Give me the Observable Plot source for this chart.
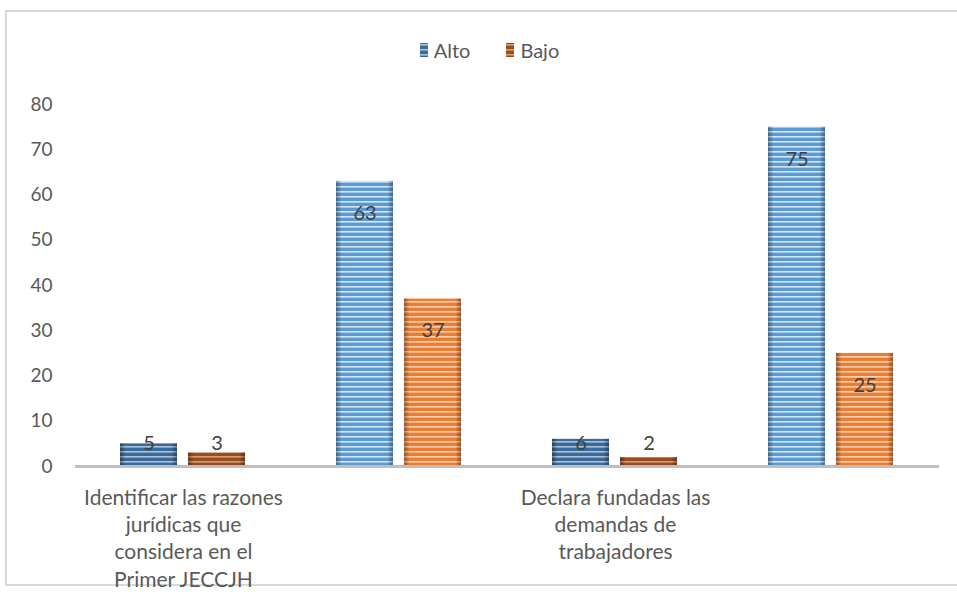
<!DOCTYPE html>
<html><head><meta charset="utf-8">
<script src="https://cdn.jsdelivr.net/npm/d3@7"></script>
<script src="https://cdn.jsdelivr.net/npm/@observablehq/plot@0.6"></script>
<style>
html,body{margin:0;padding:0;background:#fff;overflow:hidden;width:957px;height:592px;font-family:Lato,"Open Sans",sans-serif;}
#frame{position:absolute;left:5px;top:10px;width:1000px;height:576px;border:2px solid #d9d9d9;border-right:none;box-sizing:border-box;}
#chart{position:absolute;left:0;top:0;}
#legend{position:absolute;left:0;top:38px;width:957px;display:flex;justify-content:center;align-items:center;padding-left:22px;box-sizing:border-box;font-size:20px;color:#595959;}
#legend .item{display:flex;align-items:center;margin:0 18px;}
#legend .sw{width:8px;height:14px;margin-right:6px;}
</style></head>
<body>
<div id="frame"></div>
<div id="chart"></div>
<div id="legend"></div>
<script>
const categories = ["Identificar las razones\njurídicas que\nconsidera en el\nPrimer JECCJH", "", "Declara fundadas las\ndemandas de\ntrabajadores", ""];
const series = ["Alto", "Bajo"];
const alto = [5, 63, 6, 75];
const bajo = [3, 37, 2, 25];
const yTicks = [0, 10, 20, 30, 40, 50, 60, 70, 80];

const rows = [];
categories.forEach((c, i) => {
  rows.push({cat: i, series: "Alto", value: alto[i]});
  rows.push({cat: i, series: "Bajo", value: bajo[i]});
});
const pat = d => `url(#p-${d.series}-${d.cat % 2 === 0 ? "dark" : "light"})`;

const svg = Plot.plot({
  width: 957, height: 592,
  marginTop: 104, marginBottom: 126, marginLeft: 73, marginRight: 17,
  style: {background: "transparent", fontFamily: "Lato, 'Open Sans', sans-serif"},
  fx: {domain: d3.range(categories.length), padding: 0, axis: null},
  x: {domain: series, paddingInner: 0.16, paddingOuter: 0.65, axis: null},
  y: {domain: [0, 80], axis: null},
  color: {type: "identity"},
  marks: [
    Plot.axisY(yTicks, {tickSize: 0, tickPadding: 23, fontSize: 19, fill: "#595959", anchor: "left", label: null}),
    Plot.barY(rows, {fx: "cat", x: "series", y: "value", fill: pat}),
    Plot.barY(rows, {fx: "cat", x: "series", y: "value", fill: "url(#edge)"}),
    Plot.ruleY([0], {stroke: "#bfbfbf", strokeWidth: 3}),
    Plot.text(rows.filter(d => d.value >= 10), {fx: "cat", x: "series", y: "value", text: "value", dy: 32, fontSize: 20, fill: "#404040"}),
    Plot.text(rows.filter(d => d.value < 10), {fx: "cat", x: "series", y: 0, text: "value", dy: -23, fontSize: 20, fill: "#404040"}),
    Plot.text(categories.map((c, i) => ({cat: i, label: c})), {fx: "cat", text: "label", frameAnchor: "bottom", lineAnchor: "top", dy: 19, lineHeight: 1.3, fontSize: 21, fill: "#595959"})
  ]
});

const defs = d3.select(svg).insert("defs", ":first-child");
const pals = {
  "Alto-dark": ["#3a6a98", "#a9c2dc"],
  "Bajo-dark": ["#9a4d1c", "#d49d7a"],
  "Alto-light": ["#5b9bd5", "#d6e6f5"],
  "Bajo-light": ["#ed7d31", "#f9d2b6"]
};
for (const [k, [base, light]] of Object.entries(pals)) {
  const p = defs.append("pattern").attr("id", "p-" + k).attr("patternUnits", "userSpaceOnUse").attr("width", 8).attr("height", 5);
  p.append("rect").attr("width", 8).attr("height", 5).attr("fill", base);
  p.append("rect").attr("y", 1).attr("width", 8).attr("height", 1.6).attr("fill", light);
}
const g = defs.append("linearGradient").attr("id", "edge").attr("x1", 0).attr("x2", 1).attr("y1", 0).attr("y2", 0);
[[0, 0.35], [0.1, 0], [0.9, 0], [1, 0.35]].forEach(([o, a]) =>
  g.append("stop").attr("offset", o).attr("stop-color", "#000").attr("stop-opacity", a));

document.getElementById("chart").appendChild(svg);

const legend = document.getElementById("legend");
series.forEach(s => {
  const it = document.createElement("div"); it.className = "item";
  const sw = document.createElementNS("http://www.w3.org/2000/svg", "svg");
  sw.setAttribute("class", "sw"); sw.setAttribute("width", 8); sw.setAttribute("height", 14);
  const r = document.createElementNS("http://www.w3.org/2000/svg", "rect");
  r.setAttribute("width", 8); r.setAttribute("height", 14); r.setAttribute("fill", `url(#p-${s}-dark)`);
  sw.appendChild(r);
  const t = document.createElement("span"); t.textContent = s;
  it.appendChild(sw); it.appendChild(t); legend.appendChild(it);
});
</script>
</body></html>
